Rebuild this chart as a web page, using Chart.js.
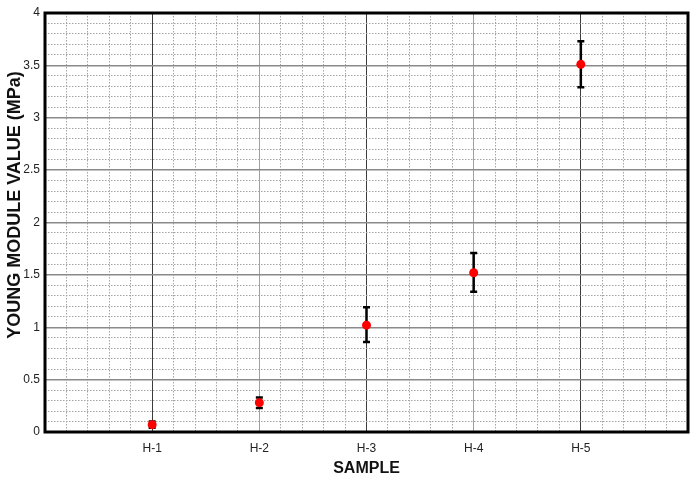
<!DOCTYPE html>
<html>
<head>
<meta charset="utf-8">
<script src="https://cdn.jsdelivr.net/npm/chart.js@4.4.1/dist/chart.umd.min.js"></script>
<style>
  html, body { margin: 0; padding: 0; background: #fff; }
  #wrap { width: 699px; height: 481px; }
</style>
</head>
<body>
<div id="wrap"><canvas id="myChart"></canvas></div>
<script>
/* globals Chart:false */

// Data
const samples = ['H-1', 'H-2', 'H-3', 'H-4', 'H-5'];
const youngModulus = [0.07, 0.28, 1.02, 1.52, 3.51];
const errorLow = [0.04, 0.23, 0.86, 1.34, 3.29];
const errorHigh = [0.10, 0.33, 1.19, 1.71, 3.73];
const yTickLabels = [0, 0.5, 1, 1.5, 2, 2.5, 3, 3.5, 4];

(() => {
  'use strict'

  const narrow = "'Liberation Sans Narrow', 'Liberation Sans', Arial, sans-serif"
  const sans = "'Liberation Sans', Arial, sans-serif"
  const isInt = v => Math.abs(v - Math.round(v)) < 1e-6
  const isHalf = v => Math.abs(v * 2 - Math.round(v * 2)) < 1e-6

  // error bars, drawn under the points
  const errorBars = {
    id: 'errorBars',
    beforeDatasetsDraw (chart) {
      const { ctx, scales: { x, y } } = chart
      ctx.save()
      ctx.strokeStyle = '#000'
      ctx.lineWidth = 2.5
      samples.forEach((s, i) => {
        const px = x.getPixelForValue(i + 1)
        const top = y.getPixelForValue(errorHigh[i])
        const bot = y.getPixelForValue(errorLow[i])
        ctx.beginPath()
        ctx.moveTo(px, top); ctx.lineTo(px, bot)
        ctx.moveTo(px - 3.5, top); ctx.lineTo(px + 3.5, top)
        ctx.moveTo(px - 3.5, bot); ctx.lineTo(px + 3.5, bot)
        ctx.stroke()
      })
      ctx.restore()
    }
  }

  // thick black box round the plot
  const frame = {
    id: 'frame',
    afterDraw (chart) {
      const { ctx, chartArea: a } = chart
      ctx.save()
      ctx.strokeStyle = '#000'
      ctx.lineWidth = 3
      ctx.strokeRect(a.left, a.top, a.right - a.left, a.bottom - a.top)
      ctx.restore()
    }
  }

  const ctx = document.getElementById('myChart')

  // eslint-disable-next-line no-unused-vars
  const myChart = new Chart(ctx, {
    type: 'scatter',
    data: {
      datasets: [{
        data: samples.map((s, i) => ({ x: i + 1, y: youngModulus[i] })),
        pointRadius: 4.5,
        pointHoverRadius: 4.5,
        pointBackgroundColor: '#ff0000',
        pointBorderWidth: 0,
        showLine: false
      }]
    },
    plugins: [errorBars, frame],
    options: {
      responsive: true,
      maintainAspectRatio: false,
      animation: false,
      layout: { padding: { top: 13, right: 11, left: 0, bottom: 0 } },
      plugins: {
        legend: { display: false },
        tooltip: { enabled: false }
      },
      scales: {
        x: {
          type: 'linear',
          min: 0,
          max: 6,
          afterFit: scale => { scale.height = 49 },
          ticks: {
            stepSize: 0.2,
            autoSkip: false,
            maxRotation: 0,
            padding: 9,
            color: '#222',
            font: { family: narrow, size: 12 },
            callback: v => (isInt(v) && v >= 1 && v <= 5) ? samples[Math.round(v) - 1] : ''
          },
          grid: {
            drawTicks: false,
            lineWidth: 1,
            color: c => {
              const v = c.tick ? c.tick.value : 0
              if (isInt(v)) return Math.round(v) % 2 === 1 ? '#3c3c3c' : '#a0a0a0'
              return '#a4a4a4'
            }
          },
          border: {
            display: false,
            dash: c => (c.tick && !isInt(c.tick.value)) ? [1.5, 1.5] : []
          },
          title: {
            display: true,
            text: 'SAMPLE',
            color: '#111',
            font: { family: narrow, size: 16, weight: 'bold' },
            padding: { top: 0, bottom: 3 }
          }
        },
        y: {
          min: 0,
          max: 4,
          afterFit: scale => { scale.width = 45 },
          ticks: {
            stepSize: 0.1,
            autoSkip: false,
            padding: 5,
            color: '#222',
            font: { family: narrow, size: 12 },
            callback: v => isHalf(v) && yTickLabels.includes(Math.round(v * 2) / 2) ? String(Math.round(v * 10) / 10) : ''
          },
          grid: {
            drawTicks: false,
            lineWidth: c => (c.tick && isHalf(c.tick.value)) ? 1.5 : 1,
            color: c => (c.tick && isHalf(c.tick.value)) ? '#8a8a8a' : '#a4a4a4'
          },
          border: {
            display: false,
            dash: c => (c.tick && !isHalf(c.tick.value)) ? [1.5, 1.5] : []
          },
          title: {
            display: true,
            // leading spaces nudge the centred title upward, as in the reference
            text: '       YOUNG MODULE VALUE (MPa)',
            color: '#111',
            font: { family: sans, size: 18, weight: 'bold' },
            padding: { top: 4, bottom: 0 }
          }
        }
      }
    }
  })
})()
</script>
</body>
</html>
